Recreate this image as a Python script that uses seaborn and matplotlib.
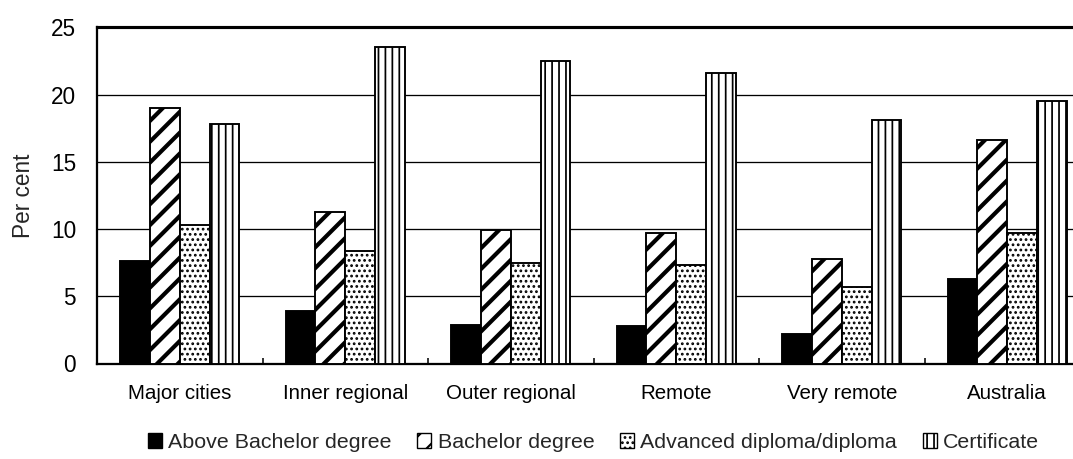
import matplotlib
matplotlib.use("Agg")
import matplotlib.pyplot as plt
from matplotlib.patches import Patch
from matplotlib.ticker import FixedLocator
import pandas as pd
import seaborn as sns

# Highest non-school qualification by remoteness area (per cent of persons)
categories = ["Major cities", "Inner regional", "Outer regional", "Remote",
              "Very remote", "Australia"]
qualifications = ["Above Bachelor degree", "Bachelor degree",
                  "Advanced diploma/diploma", "Certificate"]
above_bachelor = [7.6, 3.9, 2.9, 2.8, 2.2, 6.3]
bachelor = [19.0, 11.3, 9.9, 9.7, 7.8, 16.6]
adv_diploma = [10.3, 8.4, 7.5, 7.3, 5.7, 9.7]
certificate = [17.8, 23.5, 22.5, 21.6, 18.1, 19.5]
y_ticks = [0, 5, 10, 15, 20, 25]

series = [above_bachelor, bachelor, adv_diploma, certificate]
rows = []
for qual, vals in zip(qualifications, series):
    for cat, v in zip(categories, vals):
        rows.append({"Region": cat, "Qualification": qual, "Per cent": v})
df = pd.DataFrame(rows)

# fill / hatch style per qualification
fills = {"Above Bachelor degree": "black", "Bachelor degree": "white",
         "Advanced diploma/diploma": "white", "Certificate": "white"}
hatches = {"Above Bachelor degree": None, "Bachelor degree": "//",
           "Advanced diploma/diploma": "....", "Certificate": "|||"}
hatch_lw = {"Above Bachelor degree": 1.0, "Bachelor degree": 2.4,
            "Advanced diploma/diploma": 1.0, "Certificate": 1.0}

DPI = 125
sns.set_theme(style="white")
plt.rcParams["font.family"] = ["Liberation Sans", "DejaVu Sans"]
plt.rcParams["hatch.linewidth"] = 1.0

fig = plt.figure(figsize=(1073 / DPI, 459 / DPI), dpi=DPI)
ax = fig.add_axes([97 / 1073, 1 - 363.5 / 459, (1090 - 97) / 1073,
                   (363.5 - 27.3) / 459])

sns.barplot(data=df, x="Region", y="Per cent", hue="Qualification",
            order=categories, hue_order=qualifications, palette=fills,
            saturation=1, width=0.72, gap=0, edgecolor="black",
            linewidth=1.1, legend=False, ax=ax, errorbar=None)

for qual, container in zip(qualifications, ax.containers):
    for bar in container:
        if hatches[qual]:
            bar.set_hatch(hatches[qual])
        if hasattr(bar, "set_hatch_linewidth"):
            bar.set_hatch_linewidth(hatch_lw[qual])
        bar.set_zorder(3)

ax.set_xlim(-0.5, len(categories) - 0.5)
ax.set_ylim(0, 25)
ax.set_yticks(y_ticks)
ax.yaxis.grid(True, color="black", linewidth=0.75)
ax.set_axisbelow(True)

ax.set_xlabel("")
ax.set_ylabel("Per cent", fontsize=13, labelpad=9)
ax.tick_params(axis="y", length=0, pad=12, labelsize=13, colors="black")
ax.tick_params(axis="x", which="major", length=0, pad=12, labelsize=11.8,
               colors="black")
ax.xaxis.set_minor_locator(FixedLocator([i + 0.5 for i in range(len(categories) - 1)]))
ax.tick_params(axis="x", which="minor", direction="in", length=3.5,
               width=0.9, color="black", bottom=True)

for side in ["left", "bottom"]:
    ax.spines[side].set_color("black")
    ax.spines[side].set_linewidth(1.3)
ax.spines["top"].set_color("black")
ax.spines["top"].set_linewidth(1.8)
ax.spines["right"].set_visible(False)

handles = []
for qual in qualifications:
    p = Patch(facecolor=fills[qual], edgecolor="black", linewidth=0.8,
              hatch=hatches[qual], label=qual)
    handles.append(p)
leg = ax.legend(handles=handles, loc="center", bbox_to_anchor=(0.5, -0.235),
                ncol=4, frameon=False, fontsize=12.3, handlelength=0.65,
                handleheight=0.65, handletextpad=0.3, columnspacing=1.2)
for h, qual in zip(leg.legend_handles, qualifications):
    if hasattr(h, "set_hatch_linewidth"):
        h.set_hatch_linewidth(min(hatch_lw[qual], 1.2))

fig.savefig("out.png", dpi=DPI)
